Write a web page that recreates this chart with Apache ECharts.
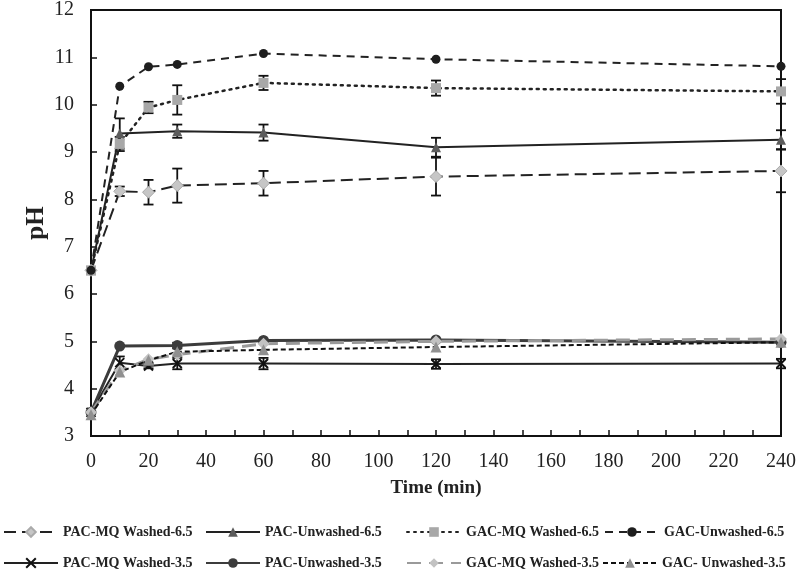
<!DOCTYPE html>
<html>
<head>
<meta charset="utf-8">
<script src="https://cdn.jsdelivr.net/npm/echarts@6/dist/echarts.min.js"></script>
<style>html,body{margin:0;padding:0;background:#fff}#c{width:800px;height:580px}</style>
</head>
<body>
<div id="c"></div>
<script>
const times = [0, 10, 20, 30, 60, 120, 240];
const xTicks = [0, 20, 40, 60, 80, 100, 120, 140, 160, 180, 200, 220, 240];
const yTicks = [3, 4, 5, 6, 7, 8, 9, 10, 11, 12];

const pacMQ65 = [6.5, 8.17, 8.15, 8.29, 8.34, 8.48, 8.6];
const pacMQ65Err = [0, 0.1, 0.26, 0.36, 0.26, 0.4, 0.45];
const pacUn65 = [6.5, 9.39, null, 9.44, 9.41, 9.1, 9.26];
const pacUn65Err = [0, 0.32, 0, 0.14, 0.17, 0.2, 0.2];
const gacMQ65 = [6.5, 9.17, 9.94, 10.1, 10.46, 10.35, 10.28];
const gacMQ65Err = [0, 0.15, 0.12, 0.31, 0.15, 0.16, 0.26];
const gacUn65 = [6.5, 10.39, 10.8, 10.85, 11.08, 10.96, 10.81];

const pacMQ35 = [3.5, 4.55, 4.48, 4.53, 4.53, 4.52, 4.53];
const pacMQ35Err = [0, 0.13, 0.05, 0.12, 0.12, 0.1, 0.1];
const pacUn35 = [3.5, 4.9, null, 4.91, 5.02, 5.03, 4.98];
const pacUn35Err = [0, 0, 0, 0.06, 0, 0, 0];
const gacMQ35 = [3.5, 4.38, 4.62, 4.72, 4.95, 5.0, 5.05];
const gacUn35 = [3.45, 4.35, 4.6, 4.78, 4.82, 4.88, 4.98];

const names = ['PAC-MQ Washed-6.5', 'PAC-Unwashed-6.5', 'GAC-MQ Washed-6.5', 'GAC-Unwashed-6.5',
  'PAC-MQ Washed-3.5', 'PAC-Unwashed-3.5', 'GAC-MQ Washed-3.5', 'GAC- Unwashed-3.5'];

function pts(vals) {
  const out = [];
  vals.forEach((v, i) => { if (v !== null) out.push([times[i], v]); });
  return out;
}
function errPts(vals, errs) {
  const out = [];
  vals.forEach((v, i) => { if (v !== null && errs[i] > 0) out.push([times[i], v, errs[i]]); });
  return out;
}
function errSeries(vals, errs) {
  return {
    type: 'custom', silent: true, z: 3,
    data: errPts(vals, errs),
    renderItem: function (params, api) {
      const x = api.value(0), y = api.value(1), e = api.value(2);
      const t = api.coord([x, y + e]), b = api.coord([x, y - e]);
      const w = 5;
      const st = { stroke: '#111', lineWidth: 1.8 };
      return { type: 'group', children: [
        { type: 'line', shape: { x1: t[0], y1: t[1], x2: b[0], y2: b[1] }, style: st },
        { type: 'line', shape: { x1: t[0] - w, y1: t[1], x2: t[0] + w, y2: t[1] }, style: st },
        { type: 'line', shape: { x1: b[0] - w, y1: b[1], x2: b[0] + w, y2: b[1] }, style: st }
      ] };
    }
  };
}
function lineSeries(name, vals, line, sym) {
  return {
    name: name, type: 'line', data: pts(vals), z: 4,
    lineStyle: line.style,
    itemStyle: sym.item,
    symbol: sym.symbol, symbolSize: sym.size
  };
}

const series = [
  lineSeries(names[0], pacMQ65, { style: { color: '#222', width: 2, type: [12, 6] } },
    { symbol: 'diamond', size: 12, item: { color: '#c6c6c6', borderColor: '#aaa', borderWidth: 1 } }),
  lineSeries(names[1], pacUn65, { style: { color: '#222', width: 2, type: 'solid' } },
    { symbol: 'triangle', size: 10, item: { color: '#5c5c5c' } }),
  lineSeries(names[2], gacMQ65, { style: { color: '#222', width: 2.5, type: [2, 5], cap: 'round' } },
    { symbol: 'rect', size: 10, item: { color: '#a8a8a8' } }),
  lineSeries(names[3], gacUn65, { style: { color: '#222', width: 2, type: [8, 6] } },
    { symbol: 'circle', size: 9, item: { color: '#1e1e1e' } }),
  lineSeries(names[4], pacMQ35, { style: { color: '#222', width: 2, type: 'solid' } },
    { symbol: 'path://M0,0L10,10M10,0L0,10', size: 9, item: { color: '#111', borderColor: '#111', borderWidth: 2 } }),
  lineSeries(names[5], pacUn35, { style: { color: '#3c3c3c', width: 3, type: 'solid' } },
    { symbol: 'circle', size: 11, item: { color: '#3c3c3c' } }),
  lineSeries(names[6], gacMQ35, { style: { color: '#9a9a9a', width: 3, type: [14, 8] } },
    { symbol: 'diamond', size: 12, item: { color: '#c2c2c2' } }),
  lineSeries(names[7], gacUn35, { style: { color: '#111', width: 2, type: [5, 3] } },
    { symbol: 'triangle', size: 11, item: { color: '#909090' } }),
  errSeries(pacMQ65, pacMQ65Err),
  errSeries(pacUn65, pacUn65Err),
  errSeries(gacMQ65, gacMQ65Err),
  errSeries(pacMQ35, pacMQ35Err),
  errSeries(pacUn35, pacUn35Err)
];

const legendPos = [
  [3, 525], [205, 525], [406, 525], [604, 525],
  [3, 556], [205, 556], [406, 556], [602, 556]
];
const legends = names.map((n, i) => ({
  data: [n], left: legendPos[i][0], top: legendPos[i][1], padding: 0,
  itemWidth: 54, itemHeight: 12, itemGap: 0,
  textStyle: { fontFamily: 'Liberation Serif', fontWeight: 'bold', fontSize: 14, color: '#222' },
  selectedMode: false
}));

const chart = echarts.init(document.getElementById('c'), null, { renderer: 'canvas' });
chart.setOption({
  animation: false,
  backgroundColor: '#fff',
  legend: legends,
  grid: { left: 91, right: 19, top: 10, bottom: 144, show: true, borderColor: '#111', borderWidth: 2 },
  xAxis: {
    type: 'value', min: xTicks[0], max: xTicks[xTicks.length - 1], interval: 20,
    name: 'Time (min)', nameLocation: 'middle', nameGap: 43,
    nameTextStyle: { fontFamily: 'Liberation Serif', fontWeight: 'bold', fontSize: 19, color: '#222' },
    axisLine: { lineStyle: { color: '#111', width: 2 } },
    axisTick: { inside: true, length: 6, lineStyle: { color: '#111', width: 1.5 } },
    minorTick: { show: true, splitNumber: 2, length: 6, lineStyle: { color: '#111', width: 1.5 } },
    axisLabel: { fontFamily: 'Liberation Serif', fontSize: 20, color: '#222', margin: 16 },
    splitLine: { show: false }
  },
  yAxis: {
    type: 'value', min: yTicks[0], max: yTicks[yTicks.length - 1], interval: 1,
    name: 'pH', nameLocation: 'middle', nameGap: 54, nameMoveOverlap: false,
    nameTextStyle: { fontFamily: 'Liberation Serif', fontWeight: 'bold', fontSize: 25, color: '#222', verticalAlign: 'middle' },
    axisLine: { show: true, lineStyle: { color: '#111', width: 2 } },
    axisTick: { show: true, inside: true, length: 6, lineStyle: { color: '#111', width: 1.5 } },
    axisLabel: { fontFamily: 'Liberation Serif', fontSize: 20, color: '#222', margin: 17 },
    splitLine: { show: false }
  },
  series: series
});
</script>
</body>
</html>
